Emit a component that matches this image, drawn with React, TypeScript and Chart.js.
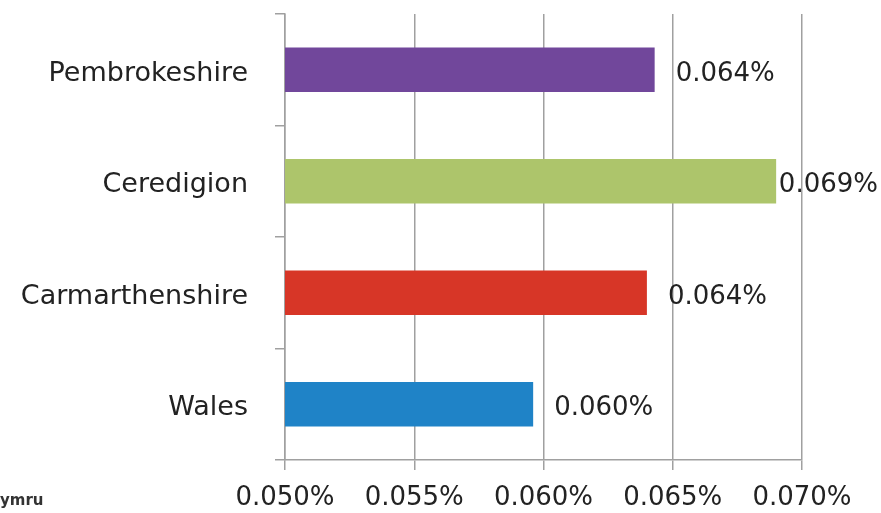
import React, { useEffect, useRef } from "react";
import { Chart, registerables } from "chart.js";

Chart.register(...registerables);

const categories = ["Pembrokeshire", "Ceredigion", "Carmarthenshire", "Wales"];
const values = [0.0643, 0.069, 0.064, 0.0596];
const barColors = ["#71479B", "#ADC56B", "#D73627", "#1F83C7"];
const xTickMin = 0.05;
const xTickMax = 0.07;
const xTickStep = 0.005;
const footerText = "ymru";

const FONT = "'DejaVu Sans', sans-serif";

const labelPlugin = {
  id: "barLabels",
  afterDatasetsDraw(chart: any) {
    const ctx = chart.ctx;
    const meta = chart.getDatasetMeta(0);
    ctx.save();
    ctx.font = `26px ${FONT}`;
    ctx.fillStyle = "#222";
    ctx.textBaseline = "middle";
    ctx.textAlign = "left";
    meta.data.forEach((bar: any, i: number) => {
      const text = values[i].toFixed(3) + "%";
      const w = ctx.measureText(text).width;
      let x = bar.x + 21;
      if (x + w > chart.width - 3) x = chart.width - 3 - w;
      ctx.fillText(text, x, bar.y + 4);
    });
    ctx.font = `bold 15px ${FONT}`;
    ctx.fillStyle = "#333";
    ctx.textBaseline = "alphabetic";
    ctx.fillText(footerText, 0, 505);
    ctx.restore();
  },
};

export default function App() {
  const ref = useRef<HTMLCanvasElement | null>(null);
  useEffect(() => {
    document.body.style.margin = "0";
    const canvas = ref.current!;
    const chart = new Chart(canvas, {
      type: "bar",
      data: {
        labels: categories,
        datasets: [
          {
            data: values,
            backgroundColor: barColors,
            borderWidth: 0,
            categoryPercentage: 1,
            barPercentage: 0.4,
          },
        ],
      },
      options: {
        indexAxis: "y",
        animation: false,
        responsive: false,
        devicePixelRatio: 1,
        layout: { padding: { top: 14, right: 79, left: 0, bottom: 0 } },
        plugins: {
          legend: { display: false },
          tooltip: { enabled: false },
        },
        scales: {
          x: {
            type: "linear",
            min: xTickMin,
            max: xTickMax,
            ticks: {
              stepSize: xTickStep,
              color: "#222",
              font: { family: FONT, size: 26 },
              padding: 13,
              callback: (v: any) => Number(v).toFixed(3) + "%",
            },
            grid: {
              color: "#a0a0a0",
              lineWidth: 1.5,
              drawTicks: true,
              tickLength: 10,
            },
            border: { display: true, color: "#a0a0a0", width: 1.5 },
            afterFit: (scale: any) => {
              scale.height = 53;
              scale.paddingLeft = 0;
            },
          },
          y: {
            type: "category",
            ticks: {
              color: "#222",
              font: { family: FONT, size: 27 },
              padding: 27,
              labelOffset: 4,
            },
            grid: {
              offset: true,
              drawOnChartArea: false,
              drawTicks: true,
              tickLength: 10,
              color: "#a0a0a0",
              lineWidth: 1.5,
            },
            border: { display: true, color: "#a0a0a0", width: 1.5 },
            afterFit: (scale: any) => {
              scale.width = 285;
              scale.paddingTop = 0;
              scale.paddingBottom = 0;
            },
          },
        },
      },
      plugins: [labelPlugin],
    });
    return () => chart.destroy();
  }, []);
  return (
    <div style={{ position: "absolute", left: 0, top: 0, width: 881, height: 513 }}>
      <canvas ref={ref} width={881} height={513} />
    </div>
  );
}
